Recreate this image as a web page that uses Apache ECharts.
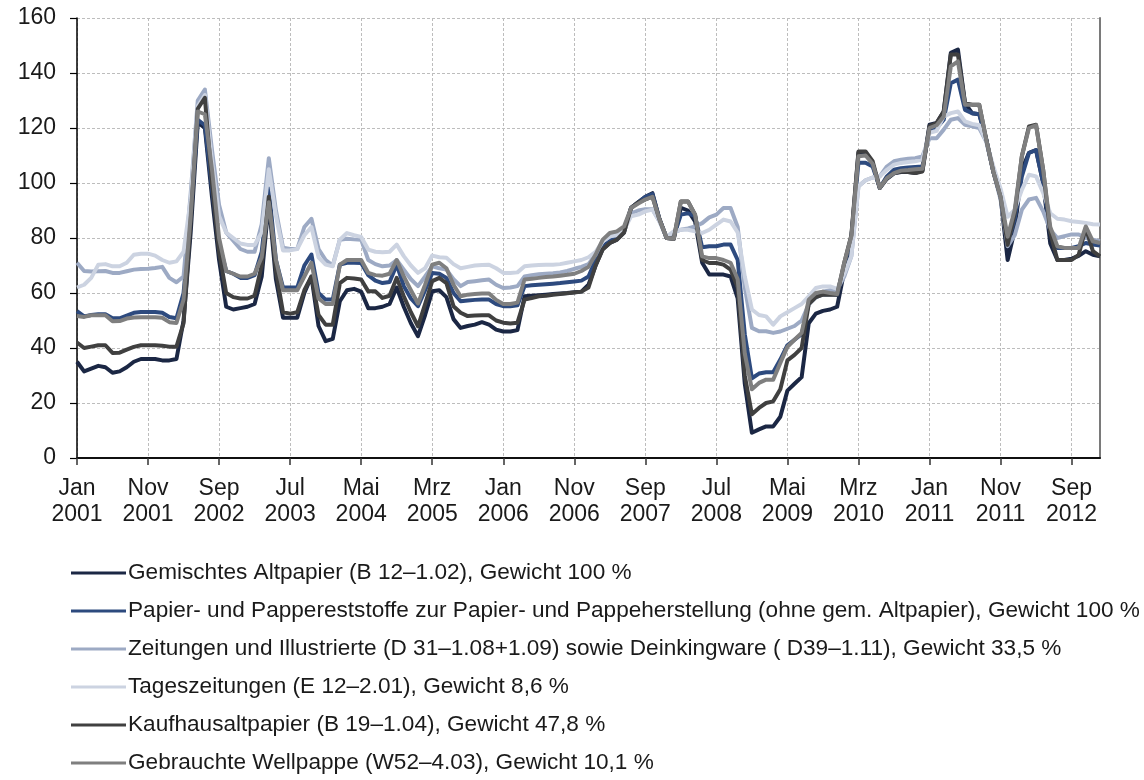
<!DOCTYPE html>
<html lang="de">
<head>
    <meta charset="UTF-8">
    <title>Altpapier Preisindex</title>
    <script src="https://cdn.jsdelivr.net/npm/echarts@6/dist/echarts.min.js"></script>
    <style>
        html, body { margin: 0; padding: 0; background: #fff; }
        #chart { width: 1144px; height: 780px; }
    </style>
</head>
<body>
<div id="chart"></div>
<script type="text/javascript">
    // Monate Jan 2001 .. Jan 2013
    var monthNames = ['Jan', 'Feb', 'Mrz', 'Apr', 'Mai', 'Jun', 'Jul', 'Aug', 'Sep', 'Okt', 'Nov', 'Dez'];
    var startYear = 2001;
    var monthCount = 145;
    var yTicks = [0, 20, 40, 60, 80, 100, 120, 140, 160];

    var seriesNames = [
        'Gemischtes Altpapier (B 12\u20131.02), Gewicht 100 %',
        'Papier- und Pappereststoffe zur Papier- und Pappeherstellung (ohne gem. Altpapier), Gewicht 100 %',
        'Zeitungen und Illustrierte (D 31\u20131.08+1.09) sowie Deinkingware ( D39\u20131.11), Gewicht 33,5 %',
        'Tageszeitungen (E 12\u20132.01), Gewicht 8,6 %',
        'Kaufhausaltpapier (B 19\u20131.04), Gewicht 47,8 %',
        'Gebrauchte Wellpappe (W52\u20134.03), Gewicht 10,1 %'
    ];
    var seriesColors = ['#1b2744', '#2d4a7e', '#9daac4', '#ccd3e1', '#404040', '#7f7f7f'];

    var gemischtes = [
        35, 31.5, 32.5, 33.5, 33, 31, 31.5, 33, 35, 36, 36, 36, 35.5, 35.5, 36,
        50, 82, 122, 120, 95, 72, 55, 54, 54.5, 55, 56, 66, 93, 65, 51, 51, 51, 60, 66, 48, 42.5, 43.3,
        57, 61, 61.5, 60.5, 54.5, 54.5, 55, 56, 62, 55, 49, 44.3, 52, 60.6, 61, 58.5, 50.5, 47.3, 48, 48.5, 49.4, 48.5, 46.7, 46, 46, 46.5, 58.8, 59, 59.2, 59.4, 59.6, 59.8, 60, 60.3,
        60.5, 63, 70, 76, 78.2, 79.4, 82, 91, 93, 95, 96.3, 86.7, 80, 79.7, 91, 90, 86, 71, 66.7, 66.7, 66.7, 66, 58, 27, 9.2, 10.4, 11.5, 11.5, 15, 24.5, 27, 29.4, 49, 52.5, 53.5, 54, 55,
        68, 80, 111, 111, 107, 98.2, 101.5, 103.5, 104, 104, 103.6, 104.5, 121.2, 121.8, 126, 147.3, 148.5, 129, 125.4, 125, 115.7, 104, 95, 72, 83, 104.8, 111, 112, 100, 78, 72, 72, 72.5, 73.5, 75.2, 73.9, 73.3
    ];
    var reststoffe = [
        53.4, 51.5, 52, 52.3, 52.3, 50.8, 50.8, 51.8, 52.8, 53.1, 53.1, 53.1, 52.8, 51.3, 50.8,
        60, 88, 123, 121, 98, 78, 68, 67, 65.5, 65.5, 66.5, 75, 98, 72, 62, 62, 62, 70, 74, 60, 57.6, 57.6,
        70.3, 71, 71, 70.9, 66.5, 64.5, 63.6, 64, 70.3, 62.5, 58, 55.2, 61, 67.3, 67, 65.5, 60, 57, 57.3, 57.5, 57.6, 57.6, 56, 55.2, 55.2, 55.5, 62.5, 62.8, 63, 63.2, 63.4, 63.6, 63.9, 64.2,
        64.5, 66, 72, 77, 79, 80.5, 83, 91, 93, 95, 96, 86.7, 80, 80.5, 88.5, 89, 87.9, 76.6, 77, 77, 77.6, 77.6, 72, 45, 29, 30.7, 31.2, 31.2, 35.8, 41, 43, 45, 56, 58.5, 59.5, 59.5, 59.4,
        70, 80, 107.4, 107.4, 106, 98.2, 102.4, 104.8, 105.4, 105.6, 105.8, 106, 119.4, 120, 123, 136.3, 137.6, 126.6, 125.4, 125, 115.7, 104, 95, 78, 87, 102.4, 110.9, 112, 100, 82, 76.4, 76.4, 76.4, 77, 78.2, 77.6, 77.3
    ];
    var zeitungen = [
        71, 68, 67.8, 67.9, 68, 67.3, 67.3, 67.9, 68.5, 68.7, 68.8, 69.1, 69.5, 65.5, 63.9,
        66, 96, 130, 134, 112, 92, 82, 79, 76, 75, 75, 85, 109, 90, 76.5, 76, 76, 84, 87, 76, 72, 70,
        79.4, 79.7, 79.5, 79.4, 72, 70.5, 69.7, 70, 72, 68.5, 65, 62.5, 66, 69.7, 69, 68.5, 65, 62.5, 64, 64.3, 64.6, 64.9, 63, 61.8, 62, 62.5, 66, 66.5, 66.8, 67, 67.2, 67.5, 68, 68.8,
        69.5, 70.5, 74, 78.8, 80.5, 81.5, 83.5, 89, 90, 90.5, 90.5, 86, 80, 82, 83, 83.5, 84.2, 85.4, 87.5, 88.5, 90.9, 90.9, 84, 62, 47.3, 46.1, 46.1, 45.5, 46, 47, 48, 50, 55.8, 59.5, 60.5, 61, 61.2,
        66, 73.4, 98.8, 101, 102, 102.4, 106, 107.9, 108.5, 108.8, 109, 109.7, 116.3, 116.3, 119.4, 123, 123.6, 121.2, 120.6, 120, 115, 104, 94, 77, 81, 90.3, 94, 94.6, 89.7, 83, 80, 80.7, 81.3, 81.3, 80, 79.4, 78.8
    ];
    var tageszeitungen = [
        62, 63, 65.5, 70.3, 70.5, 69.7, 69.7, 71, 73.9, 74.3, 74.3, 73.6, 72, 71, 71.5,
        75, 94, 128, 132, 108, 88, 82, 80, 78, 77.5, 77.5, 82, 105, 88, 75.5, 75.5, 76, 81, 84, 73, 70.3, 69.7,
        79.4, 81.8, 81, 80.4, 75.8, 75, 74.8, 75, 77.6, 73.4, 70, 67.3, 69, 73.6, 73, 72.8, 70.5, 69, 69.5, 70, 70.2, 70.3, 69, 67.3, 67.3, 67.5, 69.7, 70, 70.2, 70.3, 70.3, 70.5, 71, 71.5,
        72, 73, 75, 78.8, 80.6, 81, 83, 87.9, 88.5, 89.7, 90.3, 86, 80.5, 82.4, 83, 83, 82.4, 81.8, 83, 84.9, 86.7, 86, 82, 66, 54, 52, 51.5, 48.5, 51.5, 53, 54.5, 56, 58.8, 61.8, 62.4, 62.4, 61.5,
        67, 73.4, 98.8, 101, 102, 102.4, 104.8, 106.7, 107.3, 107.6, 107.9, 108.5, 118.2, 119, 124.2, 125.4, 126, 122.4, 121.5, 121, 115, 106, 98, 87.7, 90.3, 97.5, 103, 102.4, 96.4, 89, 87, 86.7, 86.1, 85.8, 85.5, 85, 84.9
    ];
    var kaufhaus = [
        42, 40, 40.5, 41, 41, 38.2, 38.3, 39.4, 40.4, 41, 41, 41, 40.8, 40.5, 40.5,
        49, 86, 127, 131, 100, 75, 60, 58.5, 58, 58, 59, 70, 95, 68, 53, 52.5, 53, 61, 66, 52, 48.5, 48.5,
        63.6, 65.5, 65.3, 64.9, 60.6, 60.6, 58.2, 59, 65.5, 58.8, 53, 47.9, 56, 64.3, 65.5, 63.6, 55.2, 52.8, 51.6, 51.8, 51.9, 51.9, 50, 49.2, 48.9, 49.2, 57.6, 58.2, 58.8, 59, 59.4, 59.6, 59.9, 60.2,
        60.5, 62, 70, 75.8, 78.2, 79.4, 82, 91, 93, 94, 95, 86.7, 80, 79.7, 93.3, 93.3, 88.5, 72, 70.9, 70.9, 70.3, 68.5, 62, 30, 15.9, 18.2, 20, 20.6, 25, 35.5, 37.5, 40, 56, 58.5, 59.4, 59.4, 59.4,
        71, 81, 111.5, 111.5, 107.9, 98.2, 101.8, 103.6, 104.2, 104, 103.6, 104.2, 120.6, 121.8, 126, 146.7, 146.7, 129, 128.5, 128.5, 115.7, 104, 95, 77.5, 89, 109.7, 120.6, 121.2, 104.8, 82, 72, 72, 72, 73.9, 83.6, 75.2, 73.3
    ];
    var wellpappe = [
        51.6, 51.3, 51.9, 51.9, 51.9, 49.7, 49.8, 50.7, 51.1, 51.2, 51.2, 51.2, 51, 49.4, 49.1,
        57.6, 88, 126, 125, 105, 80, 68, 67, 66, 66, 67, 73, 93, 72, 61, 61, 61, 66, 71, 58, 56, 56,
        70.3, 72, 72, 72, 67.3, 66.5, 66.3, 67, 72, 66, 61, 56.2, 63, 70.3, 71, 69, 63, 58.8, 59.4, 59.6, 59.8, 59.8, 57.5, 56, 56, 56.5, 64.9, 65.2, 65.5, 65.8, 66, 66.3, 66.6, 67,
        68, 69.5, 74, 79.4, 81.8, 82.4, 84.2, 90.9, 92.5, 94, 95, 86.7, 80, 79.7, 93.3, 93.3, 88.5, 73.3, 72.7, 72.7, 72, 71, 65, 38, 25, 27.3, 28.5, 28.5, 34.6, 40.4, 43, 45.5, 57.6, 60, 60.5, 60, 59.6,
        71, 80.7, 109.7, 110, 107, 98.2, 101.8, 103.6, 104.5, 104.7, 105, 105.2, 120, 121, 124.2, 142.4, 144.2, 128.5, 128.5, 128.5, 115.7, 104, 95, 80.5, 90.3, 109.7, 120, 121, 104.8, 84, 77, 76.4, 76.4, 76.4, 84.2, 78.8, 78.2
    ];
    var seriesData = [gemischtes, reststoffe, zeitungen, tageszeitungen, kaufhaus, wellpappe];

    var categories = [];
    for (var m = 0; m < monthCount; m++) {
        categories.push(monthNames[m % 12] + ' ' + (startYear + Math.floor(m / 12)));
    }

    function everyTenth(idx) {
        return idx % 10 === 0;
    }

    var chart = echarts.init(document.getElementById('chart'), null, {renderer: 'canvas'});
    var fontName = '"Liberation Sans", Arial, sans-serif';

    var series = [];
    for (var s = 0; s < seriesData.length; s++) {
        series.push({
            name: seriesNames[s],
            type: 'line',
            data: seriesData[s],
            symbol: 'none',
            showSymbol: false,
            color: seriesColors[s],
            lineStyle: {width: 4, color: seriesColors[s], join: 'round'}
        });
    }

    var option = {
        animation: false,
        backgroundColor: '#fff',
        grid: {left: 77, top: 18, width: 1023, height: 440, containLabel: false},
        legend: {
            orient: 'vertical',
            left: 71,
            top: 559,
            padding: 0,
            itemWidth: 55,
            itemHeight: 14,
            itemGap: 10,
            icon: 'path://M0,0 L55,0 L55,3 L0,3 Z',
            textStyle: {fontFamily: fontName, fontSize: 22.6, color: '#1a1a1a', lineHeight: 28, padding: [0, 0, 0, -3]},
            data: seriesNames.map(function (n, k) {
                return {name: n, itemStyle: {color: seriesColors[k]}};
            })
        },
        xAxis: [{
            type: 'category',
            data: categories,
            boundaryGap: false,
            axisLine: {lineStyle: {color: '#404040', width: 2}},
            axisTick: {show: true, length: 7, interval: everyTenth, lineStyle: {color: '#333', width: 1.5}},
            axisLabel: {
                interval: everyTenth,
                margin: 18,
                fontFamily: fontName,
                fontSize: 23,
                lineHeight: 26,
                color: '#1a1a1a',
                formatter: function (v) { return v.replace(' ', '\n'); }
            },
            splitLine: {show: true, interval: everyTenth, lineStyle: {color: '#bdbdbd', type: [3, 2], width: 1}}
        }, {
            type: 'category',
            position: 'top',
            data: categories,
            boundaryGap: false,
            axisLine: {lineStyle: {color: '#000', width: 1.5}},
            axisTick: {show: false},
            axisLabel: {show: false},
            splitLine: {show: false}
        }],
        yAxis: [{
            type: 'value',
            min: yTicks[0],
            max: yTicks[yTicks.length - 1],
            interval: yTicks[1] - yTicks[0],
            axisLine: {show: true, lineStyle: {color: '#000', width: 1.5}},
            axisTick: {show: true, length: 7, lineStyle: {color: '#000', width: 1.2}},
            axisLabel: {margin: 21, fontFamily: fontName, fontSize: 23, color: '#1a1a1a'},
            splitLine: {show: true, lineStyle: {color: '#bdbdbd', type: [3, 2], width: 1}}
        }, {
            type: 'value',
            position: 'right',
            min: yTicks[0],
            max: yTicks[yTicks.length - 1],
            interval: yTicks[1] - yTicks[0],
            axisLine: {show: true, lineStyle: {color: '#7a7a7a', width: 2}},
            axisTick: {show: false},
            axisLabel: {show: false},
            splitLine: {show: false}
        }],
        series: series
    };

    chart.setOption(option);
</script>
</body>
</html>
